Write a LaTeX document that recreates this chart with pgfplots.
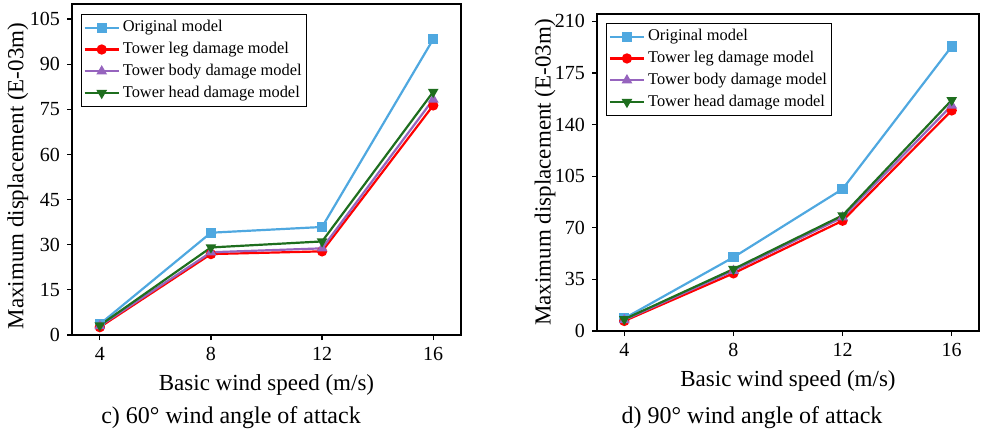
\documentclass[border=0pt]{standalone}
\usepackage{fontspec}
\setmainfont{Liberation Serif}
\usepackage{pgfplots}
\pgfplotsset{compat=1.18}
\definecolor{cblue}{RGB}{79,168,224}
\definecolor{cred}{RGB}{255,0,0}
\definecolor{cpurple}{RGB}{150,100,190}
\definecolor{cgreen}{RGB}{30,110,30}
\pgfplotsset{
  myax/.style={
    scale only axis,
    xmin=3, xmax=17, xtick={4,8,12,16}, ymin=0,
    tick align=outside, tick pos=left,
    major tick length=2.5pt,
    axis line style={line width=0.6pt},
    every tick/.style={line width=0.6pt, black},
    /pgf/number format/assume math mode=true,
    ticklabel style={font=\fontsize{10}{12}\selectfont},
    label style={font=\fontsize{11.5}{13}\selectfont},
    xlabel={Basic wind speed (m/s)},
    ylabel={Maximum displacement (E-03m)},
    xlabel style={at={(axis description cs:0.5,0)}, anchor=center, yshift=-25pt},
    legend cell align=left,
    legend style={font=\fontsize{8.2}{9.8}\selectfont, draw=black, line width=0.6pt,
      inner sep=1pt, row sep=-0.3pt, nodes={inner xsep=1.5pt}},
    legend image code/.code={%
      \draw[mark repeat=2,mark phase=2] plot coordinates {(0cm,0cm) (0.3cm,0cm) (0.6cm,0cm)};},
    every axis plot/.append style={line width=1.1pt, mark size=2pt},
  }
}
\begin{document}
\begin{tikzpicture}
\useasboundingbox (0,0) rectangle (491.5pt,-218pt);
\begin{axis}[myax, at={(36pt,-167.5pt)}, anchor=south west,
  width=194.5pt, height=165.5pt, ymax=110,
  ytick={0,15,30,45,60,75,90,105},
  ylabel style={at={(axis description cs:-0.139,0.48)}, anchor=center},
  legend style={at={(0.023,0.97)}, anchor=north west}]
\addplot[color=cblue, mark=square*] coordinates {(4,3.6) (8,34.0) (12,35.9) (16,98.3)};
\addplot[color=cred, mark=*] coordinates {(4,2.6) (8,26.9) (12,27.8) (16,76.3)};
\addplot[color=cpurple, mark=triangle*] coordinates {(4,3.0) (8,27.5) (12,28.8) (16,78.3)};
\addplot[color=cgreen, mark=triangle*, mark options={rotate=180}] coordinates {(4,3.2) (8,29.1) (12,31.1) (16,80.8)};
\legend{Original model, Tower leg damage model, Tower body damage model, Tower head damage model}
\end{axis}
\begin{axis}[myax, at={(298.5pt,-165.5pt)}, anchor=south west,
  width=191pt, height=158.5pt, ymax=215,
  ytick={0,35,70,105,140,175,210},
  ylabel style={at={(axis description cs:-0.136,0.5)}, anchor=center},
  legend style={at={(0.024,0.972)}, anchor=north west}]
\addplot[color=cblue, mark=square*] coordinates {(4,8.6) (8,50.0) (12,96.3) (16,193)};
\addplot[color=cred, mark=*] coordinates {(4,6.8) (8,39.1) (12,74.8) (16,149.6)};
\addplot[color=cpurple, mark=triangle*] coordinates {(4,7.5) (8,40.9) (12,77.1) (16,153)};
\addplot[color=cgreen, mark=triangle*, mark options={rotate=180}] coordinates {(4,8) (8,42.0) (12,78.4) (16,156.6)};
\legend{Original model, Tower leg damage model, Tower body damage model, Tower head damage model}
\end{axis}
\node[font=\fontsize{12}{14}\selectfont] at (115.5pt,-209pt) {c) 60° wind angle of attack};
\node[font=\fontsize{12}{14}\selectfont] at (376pt,-209pt) {d) 90° wind angle of attack};
\end{tikzpicture}
\end{document}
